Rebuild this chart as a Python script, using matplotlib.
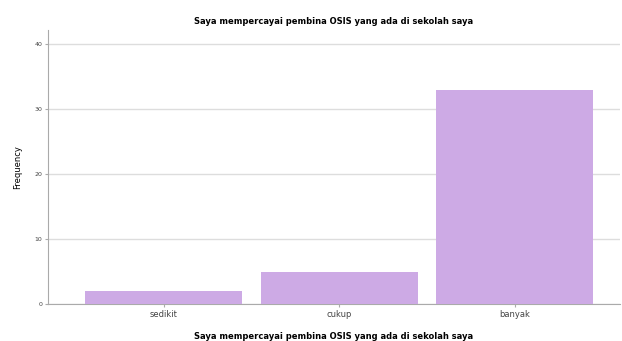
import matplotlib.pyplot as plt

categories = ['sedikit', 'cukup', 'banyak']
counts = [2, 5, 33]
yticks = [0, 10, 20, 30, 40]
title = 'Saya mempercayai pembina OSIS yang ada di sekolah saya'

fig = plt.figure(figsize=(6.22, 3.41), dpi=100)
ax = fig.add_axes([48 / 622, 37 / 341, 572 / 622, 274 / 341])

ax.bar(range(len(categories)), counts, width=0.895, color='#cdaae5', zorder=3)
ax.set_xlim(-0.66, 2.6)
ax.set_ylim(0, 42.2)
ax.set_yticks(yticks)
ax.set_yticklabels([str(v) for v in yticks], fontsize=4.5, color='#444444')
ax.set_xticks(range(len(categories)))
ax.set_xticklabels(categories, fontsize=6, color='#444444')
ax.yaxis.grid(True, color='#dddddd', linewidth=1, zorder=0)
ax.tick_params(axis='both', length=2, color='#aaaaaa', pad=2)
for side in ['top', 'right']:
    ax.spines[side].set_visible(False)
ax.spines['left'].set_color('#aaaaaa')
ax.spines['bottom'].set_color('#aaaaaa')

ax.set_ylabel('Frequency', fontsize=6, labelpad=9)
ax.set_xlabel(title, fontsize=6, fontweight='bold', labelpad=10)
ax.set_title(title, fontsize=6, fontweight='bold', pad=4)

fig.savefig('out.png', dpi=100)
